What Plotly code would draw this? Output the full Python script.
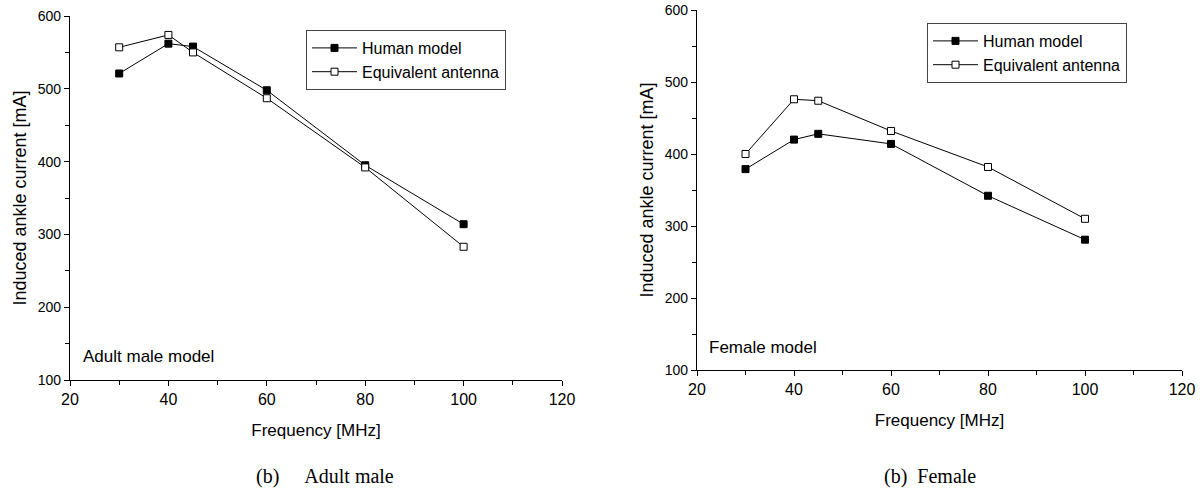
import plotly.graph_objects as go

freq = [30, 40, 45, 60, 80, 100]
male_human = [521, 562, 558, 498, 395, 314]
male_antenna = [557, 574, 550, 487, 392, 283]
female_human = [379, 420, 428, 414, 342, 281]
female_antenna = [400, 476, 474, 432, 382, 310]

series_names = ["Human model", "Equivalent antenna"]
panel_notes = ["Adult male model", "Female model"]
captions = ["(b)\u00a0\u00a0\u00a0\u00a0\u00a0Adult male", "(b)\u00a0\u00a0Female"]
x_title = "Frequency [MHz]"
y_title = "Induced ankle current [mA]"

W, H = 1202, 488
def px(x):
    return x / W
def py(y):
    return (H - y) / H

fig = go.Figure()

font_sans = "Liberation Sans, Arial, sans-serif"
font_serif = "Liberation Serif, Times New Roman, serif"

def add_pair(human, antenna, xa, ya, legend):
    fig.add_trace(go.Scatter(
        x=freq, y=human, mode="lines+markers", name=series_names[0],
        xaxis=xa, yaxis=ya, legend=legend,
        line=dict(color="black", width=1),
        marker=dict(symbol="square", size=7, color="black", line=dict(color="black", width=1))))
    fig.add_trace(go.Scatter(
        x=freq, y=antenna, mode="lines+markers", name=series_names[1],
        xaxis=xa, yaxis=ya, legend=legend,
        line=dict(color="black", width=1),
        marker=dict(symbol="square", size=7, color="white", line=dict(color="black", width=1))))

add_pair(male_human, male_antenna, "x", "y", "legend")
add_pair(female_human, female_antenna, "x2", "y2", "legend2")

axis_common = dict(
    showline=True, linecolor="black", linewidth=1.4, mirror=False,
    ticks="outside", ticklen=5, tickwidth=1.4, tickcolor="black",
    showgrid=False, zeroline=False, automargin=False,
    ticklabeloverflow="allow",
)

xcommon = dict(axis_common, range=[20, 120], tickvals=[20, 40, 60, 80, 100, 120],
               tickfont=dict(family=font_sans, size=16, color="black"),
               title=dict(text=x_title, font=dict(family=font_sans, size=17, color="black"), standoff=16),
               minor=dict(ticks="outside", ticklen=4, tickwidth=1, tickcolor="black",
                          tickvals=[30, 50, 70, 90, 110]))
ycommon = dict(axis_common, range=[100, 600], tickvals=[100, 200, 300, 400, 500, 600],
               tickfont=dict(family=font_sans, size=14, color="black"),
               title=dict(text=y_title, font=dict(family=font_sans, size=18, color="black"), standoff=6),
               minor=dict(ticks="outside", ticklen=4, tickwidth=1, tickcolor="black",
                          tickvals=[150, 250, 350, 450, 550]))

legend_common = dict(xanchor="left", yanchor="top",
                     bordercolor="#444", borderwidth=1, bgcolor="white",
                     font=dict(family=font_sans, size=16, color="black"),
                     tracegroupgap=0, itemwidth=45)

fig.update_layout(
    width=W, height=H,
    margin=dict(l=0, r=0, t=0, b=0),
    paper_bgcolor="white", plot_bgcolor="white",
    font=dict(family=font_sans, size=14, color="black"),
    xaxis=dict(xcommon, domain=[px(70), px(562)], anchor="y"),
    yaxis=dict(ycommon, domain=[py(380), py(16)], anchor="x"),
    xaxis2=dict(xcommon, domain=[px(697), px(1182)], anchor="y2"),
    yaxis2=dict(ycommon, domain=[py(370), py(10)], anchor="x2"),
    legend=dict(legend_common, x=px(306), y=py(30)),
    legend2=dict(legend_common, x=px(927), y=py(23)),
    showlegend=True,
)

fig.add_annotation(x=px(81), y=py(356), xref="paper", yref="paper", text=panel_notes[0],
                   showarrow=False, xanchor="left", yanchor="middle",
                   font=dict(family=font_sans, size=17, color="black"))
fig.add_annotation(x=px(707), y=py(347), xref="paper", yref="paper", text=panel_notes[1],
                   showarrow=False, xanchor="left", yanchor="middle",
                   font=dict(family=font_sans, size=17, color="black"))
fig.add_annotation(x=px(325), y=py(476), xref="paper", yref="paper", text=captions[0],
                   showarrow=False, xanchor="center", yanchor="middle",
                   font=dict(family=font_serif, size=20, color="black"))
fig.add_annotation(x=px(930), y=py(476), xref="paper", yref="paper", text=captions[1],
                   showarrow=False, xanchor="center", yanchor="middle",
                   font=dict(family=font_serif, size=20, color="black"))

fig.write_html("out.html",
               config={"displayModeBar": False},
               post_script="document.body.style.margin='0';document.body.style.overflow='hidden';")
